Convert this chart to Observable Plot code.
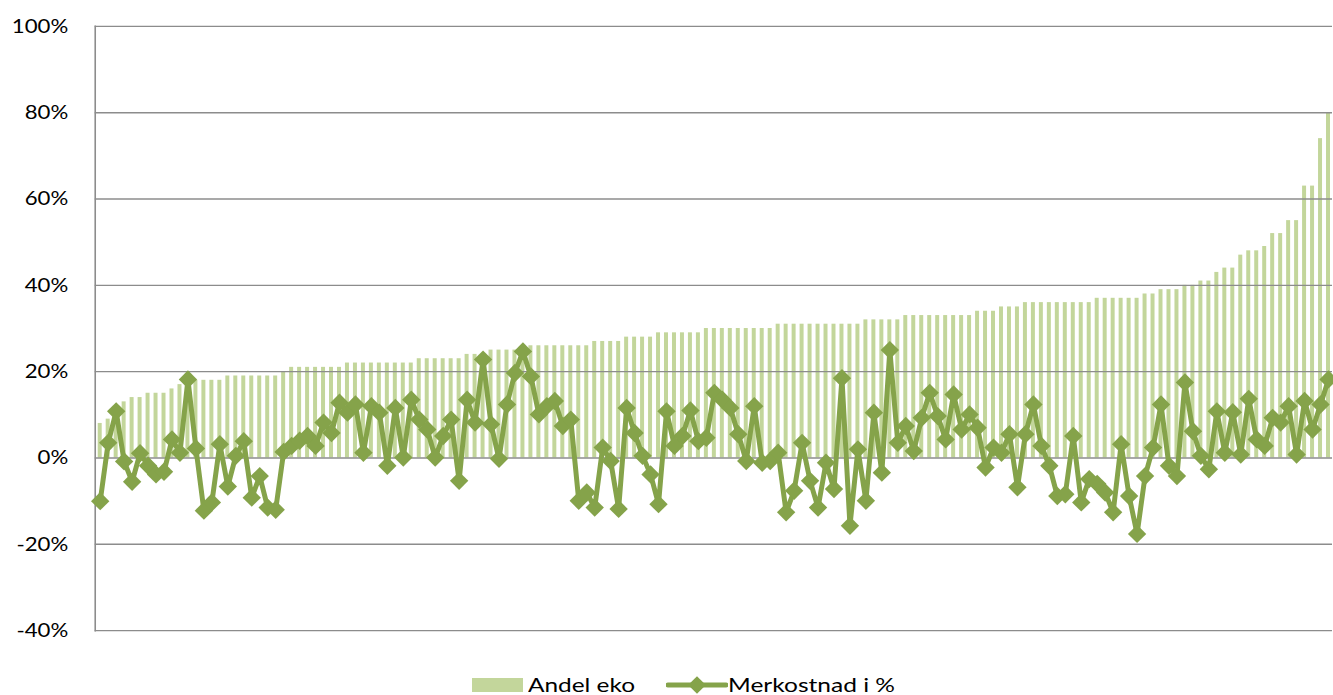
<!DOCTYPE html>
<html><head><meta charset="utf-8">
<script src="https://cdn.jsdelivr.net/npm/d3@7"></script>
<script src="https://cdn.jsdelivr.net/npm/@observablehq/plot@0.6"></script>
<style>
html,body{margin:0;padding:0;background:#fff;overflow:hidden}
#wrap{position:relative;width:1333px;height:695px;overflow:hidden;background:#fff}
#chart{position:absolute;left:0;top:0}
.lg{position:absolute;font-family:Lato,sans-serif;font-size:20px;line-height:20px;color:#000;white-space:nowrap;transform-origin:0 50%}
</style></head><body>
<div id="wrap"><div id="chart"></div>
<div id="sw1" style="position:absolute;left:472px;top:678px;width:51px;height:14px;background:#c3d69b"></div>
<span id="t1" class="lg" style="left:528px;top:674px"></span>
<svg id="sw2" style="position:absolute;left:666px;top:675px" width="62" height="20"></svg>
<span id="t2" class="lg" style="left:728px;top:674px"></span>
</div>
<script>
const categories = d3.range(155);
const andelEko = [8,9,12,13,14,14,15,15,15,16,17,17,18,18,18,18,
19,19,19,19,19,19,19,20,
21,21,21,21,21,21,21,
22,22,22,22,22,22,22,22,22,
23,23,23,23,23,23,
24,24,24,
25,25,25,25,
26,26,26,26,26,26,26,26,26,
27,27,27,27,
28,28,28,28,
29,29,29,29,29,29,
30,30,30,30,30,30,30,30,30,
31,31,31,31,31,31,31,31,31,31,31,
32,32,32,32,32,
33,33,33,33,33,33,33,33,33,
34,34,34,
35,35,35,
36,36,36,36,36,36,36,36,36,
37,37,37,37,37,37,
38,38,
39,39,39,
40,40,
41,41,
43,
44,44,
47,
48,48,
49,
52,52,
55,55,
63,63,
74,
80];
const merkostnad = [-10,3.5,10.8,-0.8,-5.5,1.1,-1.8,-3.8,-3.2,4.3,
1.2,18.2,2.2,-12.2,-10.3,3.2,-6.6,0.5,3.9,-9.2,
-4.2,-11.5,-12,1.4,2.8,4,5.1,2.8,8.2,5.8,
12.8,10.5,12.4,1.2,12,10.5,-1.8,11.6,0.1,13.5,
8.9,6.6,0.1,5.1,8.9,-5.3,13.5,8.2,22.8,7.8,
-0.2,12.4,19.7,24.7,18.9,10.1,12,13.2,7.4,8.9,
-9.9,-8,-11.5,2.4,-0.7,-11.8,11.6,5.8,0.5,-3.8,
-10.7,10.8,2.8,5.1,11,3.9,4.7,15.1,13.5,11.6,
5.5,-0.7,12,-1.1,-0.7,1.2,-12.6,-7.6,3.5,-5.3,
-11.5,-1.1,-7.2,18.5,-15.7,2,-9.9,10.5,-3.4,25,
3.5,7.4,1.6,9.3,15.1,9.7,4.3,14.7,6.6,10.1,
7,-2.2,2.4,1.2,5.5,-6.8,5.5,12.4,2.8,-1.8,
-8.8,-8.4,5.1,-10.3,-4.9,-6,-8,-12.6,3.2,-8.8,
-17.6,-4.2,2.4,12.4,-1.8,-4.2,17.5,6.2,0.5,-2.6,
10.8,1.2,10.6,0.8,13.7,4.3,2.8,9.3,8.2,12,
0.8,13.2,6.6,12.4,18.2];
const yTicks = [-0.4,-0.2,0,0.2,0.4,0.6,0.8,1.0];
const seriesNames = ["Andel eko","Merkostnad i %"];
const barColor = "#c3d69b", lineColor = "#85a34a", gridColor = "#8c8c8c";

const data = categories.map(i => ({i, andel: andelEko[i]/100, merk: merkostnad[i]/100}));

const chart = Plot.plot({
  width: 1337, height: 660,
  marginLeft: 95, marginRight: 1, marginTop: 26, marginBottom: 28,
  style: {fontFamily: "Lato, sans-serif", fontSize: "20px", background: "#fff", color: "#000"},
  x: {type: "band", domain: categories, paddingInner: 0.5, paddingOuter: 0.25, axis: null},
  y: {domain: [-0.4, 1.0], ticks: yTicks, label: null},
  marks: [
    Plot.barY(data, {x: "i", y: "andel", fill: barColor}),
    Plot.ruleY(yTicks, {stroke: gridColor, strokeWidth: 1.4}),
    Plot.frame({anchor: "left", stroke: gridColor, strokeWidth: 1.6}),
    Plot.axisY(yTicks, {tickSize: 0, tickPadding: 27, tickFormat: d => Math.round(d*100) + "%", label: null, fill: "#000"}),
    Plot.line(data, {x: "i", y: "merk", stroke: lineColor, strokeWidth: 5, strokeLinejoin: "round"}),
    Plot.dot(data, {x: "i", y: "merk", symbol: "diamond2", r: 8.3, fill: lineColor, stroke: "none"})
  ]
});
document.getElementById("chart").appendChild(chart);

// stretch tick labels to match the wide rendering of the original
const ticks = Array.from(chart.querySelectorAll('g[aria-label="y-axis tick label"] text'));
const ref = ticks.find(t => t.textContent === "100%");
if (ref) {
  const s = 56.6 / ref.getComputedTextLength();
  ticks.forEach(t => t.setAttribute("transform", (t.getAttribute("transform") || "") + ` scale(${s},1)`));
}

// legend
const t1 = document.getElementById("t1"), t2 = document.getElementById("t2");
t1.textContent = seriesNames[0];
t2.textContent = seriesNames[1];
[[t1, 107], [t2, 167]].forEach(([el, w]) => {
  const s = w / el.getBoundingClientRect().width;
  el.style.transform = `scaleX(${s})`;
});
const sw = d3.select("#sw2");
sw.append("line").attr("x1", 2).attr("x2", 60).attr("y1", 10).attr("y2", 10).attr("stroke", lineColor).attr("stroke-width", 5).attr("stroke-linecap", "round");
sw.append("path").attr("d", d3.symbol(d3.symbolDiamond2, 200)()).attr("transform", "translate(31,10)").attr("fill", lineColor);
</script>
</body></html>
